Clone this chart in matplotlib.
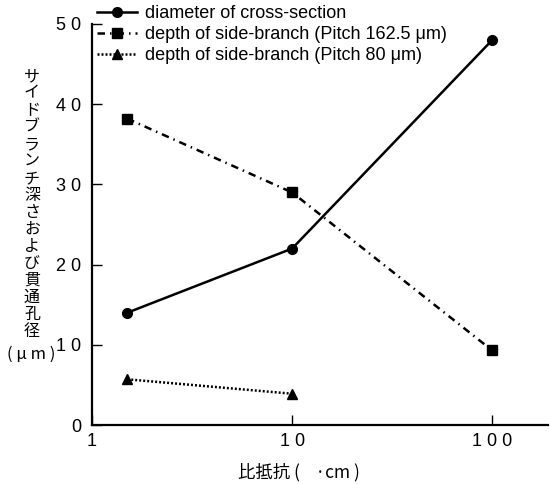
import numpy as np
import matplotlib
matplotlib.use("Agg")
import matplotlib.pyplot as plt

plt.rcParams['font.family'] = ['Liberation Sans', 'Noto Sans CJK JP', 'DejaVu Sans']

# data
x_diam = [1.5, 10, 100]
y_diam = [14, 22, 48]
x_p162 = [1.5, 10, 100]
y_p162 = [38.2, 29, 9.3]
x_p80 = [1.5, 10]
y_p80 = [5.7, 3.9]

labels = ["diameter of cross-section",
          "depth of side-branch (Pitch 162.5 μm)",
          "depth of side-branch (Pitch 80 μm)"]
ylab_vert = "サイドブランチ深さおよび貫通孔径"
ylab_unit = "( μ m )"
xlab = "比抵抗 (    ·cm )"

fig = plt.figure(figsize=(5.5, 4.84), dpi=100)
ax = fig.add_axes([92/550, 59/484, 456/550, 401/484])

lw = 1.8
ax.plot(x_diam, y_diam, '-', color='black', lw=lw, marker='o', ms=7, label=labels[0])
ax.plot(x_p162, y_p162, color='black', lw=lw, marker='s', ms=7,
        dashes=(3.0, 2.0, 0.6, 2.0), label=labels[1])
ax.plot(x_p80, y_p80, color='black', lw=lw, marker='^', ms=7,
        dashes=(0.8, 0.8), label=labels[2])

ax.set_xscale('log')
ax.set_xlim(1, 190)
ax.set_ylim(0, 50)
ax.set_xticks([1, 10, 100])
ax.set_xticklabels(['1', '1 0', '1 0 0'])
ax.xaxis.set_minor_locator(matplotlib.ticker.NullLocator())
ax.set_yticks([0, 10, 20, 30, 40, 50])
ax.set_yticklabels(['0', '1 0', '2 0', '3 0', '4 0', '5 0'])
ax.tick_params(direction='in', length=7, width=1, labelsize=13, pad=6)
ax.tick_params(axis='y', pad=8)
for s in ['top', 'right']:
    ax.spines[s].set_visible(False)
for s in ['left', 'bottom']:
    ax.spines[s].set_linewidth(1.6)

leg = ax.legend(loc='upper left', bbox_to_anchor=(0.012, 1.047), frameon=False,
                fontsize=13, handlelength=2.2, handletextpad=0.45,
                labelspacing=0.22, borderaxespad=0, borderpad=0)

fig.text(32/550, 1 - 204/484, "\n".join(ylab_vert), ha='center', va='center',
         fontsize=11.5, family=['Noto Sans CJK JP', 'DejaVu Sans'], linespacing=1.0)
fig.text(31/550, 1 - 354/484, ylab_unit, ha='center', va='center', fontsize=12,
         family=['Noto Sans CJK JP', 'DejaVu Sans'])
fig.text(299/550, 1 - 472/484, xlab, ha='center', va='center', fontsize=12.5,
         family=['Noto Sans CJK JP', 'DejaVu Sans'])

fig.savefig("out.png", dpi=100)
